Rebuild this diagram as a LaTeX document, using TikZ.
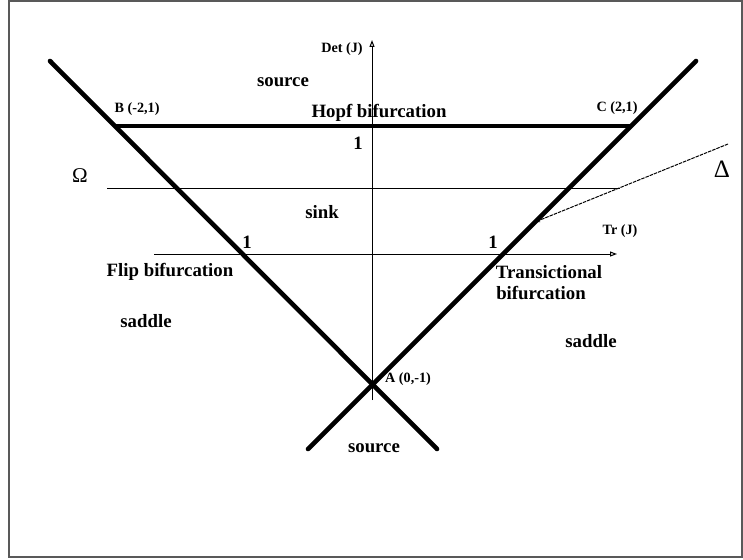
\documentclass[tikz,border=0pt]{standalone}
\usepackage{fontspec}
\setmainfont{Liberation Serif}
\usetikzlibrary{arrows.meta}
\begin{document}
\begin{tikzpicture}[x=1pt,y=-1pt,
  thick line/.style={line width=4.6pt,line cap=round,black},
  thin line/.style={line width=1pt,black},
  lab/.style={font=\bfseries\fontsize{18.8}{21}\selectfont,inner sep=0pt},
  smalllab/.style={font=\bfseries\fontsize{14.2}{16}\selectfont,inner sep=0pt},
  greek/.style={font=\fontsize{21}{24}\selectfont,inner sep=0pt}]
\useasboundingbox (0,0) rectangle (743,559);
\draw[gray!70!black,line width=1.6pt] (9,1) rectangle (742,557);
% coordinates
\coordinate (Ltop) at (50,61);
\coordinate (Lbot) at (437,449);
\coordinate (Rtop) at (696,61);
\coordinate (Rbot) at (308,449);
\coordinate (B) at (115,126);
\coordinate (C) at (630,126);
\coordinate (Ybot) at (372,400);
\coordinate (Ytop) at (372,40);
\coordinate (Xl) at (154,254);
\coordinate (Xr) at (617,254);
\coordinate (Ol) at (107,188);
\coordinate (Or) at (620,188);
\coordinate (Dend) at (728,144);
\coordinate (Dtip) at (535,222);
% thin lines
\draw[thin line,-{Triangle[open,length=7pt,width=5pt]}] (Ybot) -- (Ytop);
\draw[thin line,-{Triangle[open,length=7pt,width=5pt]}] (Xl) -- (Xr);
\draw[thin line] (Ol) -- (Or);
\draw[line width=1pt,dash pattern=on 3.5pt off 1pt,-{Stealth[length=5pt,width=4pt]}] (Dend) -- (Dtip);
% thick lines
\draw[thick line] (Ltop) -- (Lbot);
\draw[thick line] (Rtop) -- (Rbot);
\draw[line width=4.4pt] (B) -- (C);
% labels
\node[smalllab] (det) at (342,49) {Det (J)};
\node[lab] (src1) at (283,82) {source};
\node[lab] (hopf) at (379,113) {Hopf bifurcation};
\node[smalllab] (blab) at (137,109) {B (-2,1)};
\node[smalllab] (clab) at (617,108) {C (2,1)};
\node[lab] (one1) at (358,143) {1};
\node[greek] (omega) at (80,176) {Ω};
\node[greek,font=\fontsize{25}{28}\selectfont] (delta) at (722,169) {Δ};
\node[lab] (sink) at (322,212) {sink};
\node[lab] (one2) at (247,242) {1};
\node[lab] (one3) at (493,242) {1};
\node[smalllab] (tr) at (620,231) {Tr (J)};
\node[lab] (flip) at (170,272) {Flip bifurcation};
\node[lab] (trans) at (549,272) {Transictional};
\node[lab] (bif) at (541,293) {bifurcation};
\node[lab] (sad1) at (146,321) {saddle};
\node[lab] (sad2) at (591,341) {saddle};
\node[smalllab] (alab) at (408,379) {A (0,-1)};
\node[lab] (src2) at (374,448) {source};
\end{tikzpicture}
\end{document}
